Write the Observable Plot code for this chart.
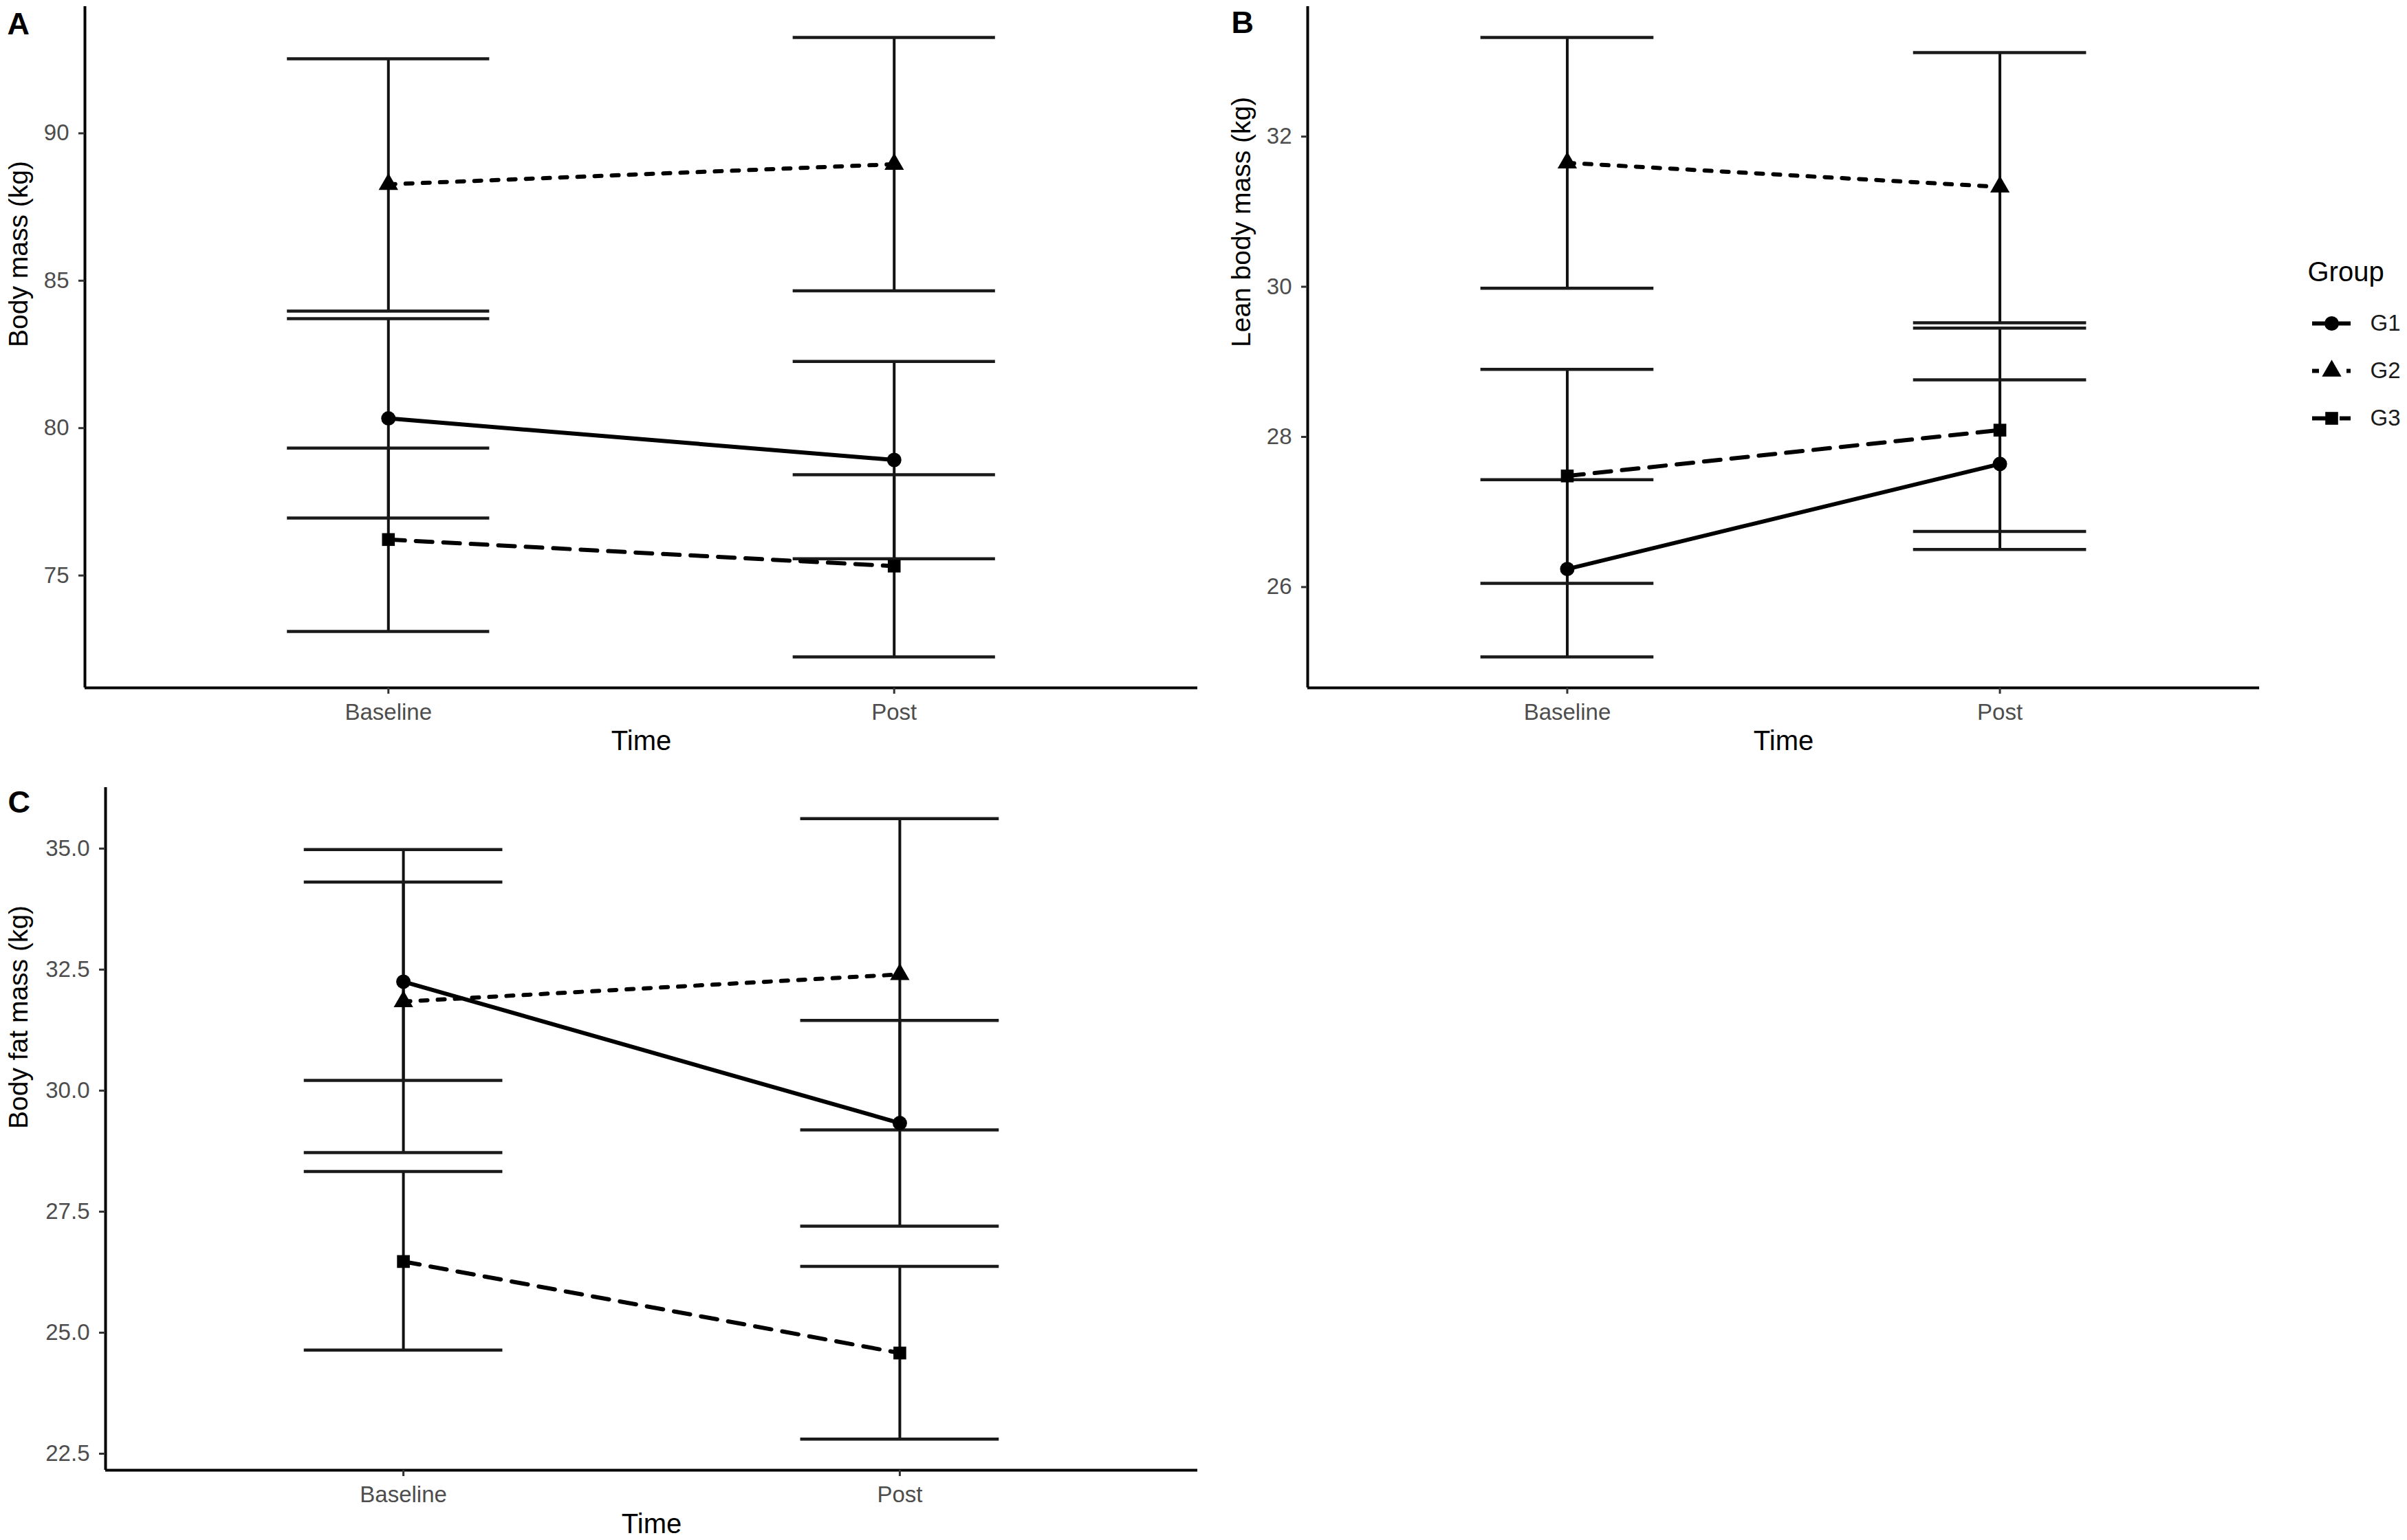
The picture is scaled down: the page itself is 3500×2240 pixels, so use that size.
<!DOCTYPE html>
<html>
<head>
<meta charset="utf-8">
<script src="https://cdn.jsdelivr.net/npm/d3@7"></script>
<script src="https://cdn.jsdelivr.net/npm/@observablehq/plot@0.6"></script>
<style>
  html, body { margin: 0; padding: 0; background: #fff; }
  #root { position: relative; width: 3500px; height: 2240px; background: #fff; overflow: hidden; }
  #root > svg, #root > figure { position: absolute; margin: 0; }
</style>
</head>
<body>
<div id="root"></div>
<script>
// ---------- data ----------
const times = ["Baseline", "Post"];
const timeIndex = [1, 2];
const groups = ["G1", "G2", "G3"];

// Panel A: Body mass (kg); rows = G1, G2, G3; columns = Baseline, Post
const massMean  = [[80.33, 78.92], [88.27, 88.95], [76.22, 75.32]];
const massLower = [[76.95, 75.57], [83.97, 84.66], [73.10, 72.24]];
const massUpper = [[83.71, 82.26], [92.53, 93.25], [79.32, 78.42]];
const massTicks = [75, 80, 85, 90];

// Panel B: Lean body mass (kg)
const leanMean  = [[26.24, 27.64], [31.65, 31.33], [27.48, 28.09]];
const leanLower = [[25.07, 26.50], [29.98, 29.52], [26.05, 26.74]];
const leanUpper = [[27.43, 28.76], [33.32, 33.12], [28.90, 29.45]];
const leanTicks = [26, 28, 30, 32];

// Panel C: Body fat mass (kg)
const fatMean  = [[32.25, 29.33], [31.84, 32.40], [26.47, 24.58]];
const fatLower = [[30.21, 27.20], [28.72, 29.19], [24.64, 22.80]];
const fatUpper = [[34.31, 31.45], [34.98, 35.62], [28.33, 26.37]];
const fatTicks = [22.5, 25, 27.5, 30, 32.5, 35];

// ---------- styles ----------
const FONT = '"Liberation Sans", Arial, Helvetica, sans-serif';
const dashes = [undefined, "10,15", "24,16"];
const symbols = ["circle", "triangle", "square"];
const root = document.getElementById("root");

function panel(cfg) {
  const rows = [];
  groups.forEach((g, gi) => timeIndex.forEach((x, ti) => rows.push({
    group: g, gi, x, time: times[ti],
    mean: cfg.mean[gi][ti], lo: cfg.lower[gi][ti], hi: cfg.upper[gi][ti]
  })));
  const lo = d3.min(rows, d => d.lo), hi = d3.max(rows, d => d.hi), pad = (hi - lo) * 0.05;
  const yDomain = [lo - pad, hi + pad];
  const xDomain = [0.4, 2.6];
  const capHalf = 0.2;
  const marks = [
    Plot.ruleX(rows, {x: "x", y1: "lo", y2: "hi", stroke: "#111", strokeWidth: 4}),
    Plot.ruleY(rows, {y: "lo", x1: d => d.x - capHalf, x2: d => d.x + capHalf, stroke: "#1a1a1a", strokeWidth: 4.5}),
    Plot.ruleY(rows, {y: "hi", x1: d => d.x - capHalf, x2: d => d.x + capHalf, stroke: "#1a1a1a", strokeWidth: 4.5})
  ];
  groups.forEach((g, gi) => {
    const sub = rows.filter(d => d.gi === gi);
    marks.push(Plot.line(sub, {x: "x", y: "mean", stroke: "black", strokeWidth: 6, strokeDasharray: dashes[gi]}));
    marks.push(Plot.dot(sub, {x: "x", y: "mean", symbol: symbols[gi], r: 10.5, fill: "black", stroke: "none"}));
  });
  marks.push(
    Plot.ruleY([yDomain[0]], {stroke: "black", strokeWidth: 4}),
    Plot.ruleX([xDomain[0]], {stroke: "black", strokeWidth: 4}),
    Plot.axisX({ticks: timeIndex, tickFormat: i => times[i - 1], tickSize: 9, tickPadding: 14,
      fontSize: 33, fill: "#4d4d4d", stroke: "#333", strokeWidth: 3, label: null}),
    Plot.axisY({ticks: cfg.ticks, tickFormat: cfg.fmt, tickSize: 9, tickPadding: 14,
      fontSize: 33, fill: "#4d4d4d", stroke: "#333", strokeWidth: 3, label: null}),
    Plot.text([cfg.ylabel], {frameAnchor: "left", rotate: -90, dx: cfg.ylabDx, lineAnchor: "top",
      fontSize: 39, fill: "black"}),
    Plot.text(["Time"], {frameAnchor: "bottom", dy: cfg.xlabDy, lineAnchor: "top", fontSize: 40, fill: "black"}),
    Plot.text([cfg.tag], {frameAnchor: "top-left", dx: cfg.tagDx, dy: cfg.tagDy, lineAnchor: "top",
      textAnchor: "start", fontSize: 45, fontWeight: "bold", fill: "black"})
  );
  const svg = Plot.plot({
    width: cfg.width, height: cfg.height,
    marginLeft: cfg.ml, marginRight: cfg.mr, marginTop: cfg.mt, marginBottom: cfg.mb,
    x: {domain: xDomain},
    y: {domain: yDomain},
    style: {fontFamily: FONT, background: "transparent", overflow: "visible", color: "black"},
    marks
  });
  svg.style.left = cfg.left + "px";
  svg.style.top = cfg.top + "px";
  root.appendChild(svg);
}

panel({mean: massMean, lower: massLower, upper: massUpper, ticks: massTicks, fmt: d3.format("d"),
  ylabel: "Body mass (kg)", tag: "A",
  left: 0, top: 0, width: 1760, height: 1120, ml: 123, mr: 19, mt: 9, mb: 120,
  ylabDx: -111, xlabDy: 62, tagDx: -113, tagDy: 9});

panel({mean: leanMean, lower: leanLower, upper: leanUpper, ticks: leanTicks, fmt: d3.format("d"),
  ylabel: "Lean body mass (kg)", tag: "B",
  left: 1760, top: 0, width: 1740, height: 1120, ml: 141, mr: 215, mt: 9, mb: 120,
  ylabDx: -111, xlabDy: 62, tagDx: -111, tagDy: 7});

panel({mean: fatMean, lower: fatLower, upper: fatUpper, ticks: fatTicks, fmt: d3.format(".1f"),
  ylabel: "Body fat mass (kg)", tag: "C",
  left: 0, top: 1120, width: 1760, height: 1120, ml: 153, mr: 19, mt: 25, mb: 102,
  ylabDx: -141, xlabDy: 63, tagDx: -142, tagDy: 5});

// ---------- legend ----------
const legendMarks = [];
groups.forEach((g, gi) => {
  legendMarks.push(Plot.ruleY([g], {stroke: "black", strokeWidth: 6, strokeDasharray: dashes[gi]}));
  legendMarks.push(Plot.dot([g], {y: d => d, symbol: symbols[gi], r: 10.5, fill: "black", stroke: "none"}));
});
legendMarks.push(
  Plot.text(groups, {y: d => d, frameAnchor: "right", dx: 28, textAnchor: "start", fontSize: 33, fill: "#1a1a1a"}),
  Plot.text(["Group"], {frameAnchor: "top-left", dx: -7, dy: -90, lineAnchor: "top", textAnchor: "start",
    fontSize: 40, fill: "black"})
);
const legend = Plot.plot({
  width: 150, height: 280, marginLeft: 12, marginRight: 82, marginTop: 110, marginBottom: 32,
  x: {domain: [0, 1], axis: null},
  y: {type: "point", domain: groups, padding: 0, axis: null},
  style: {fontFamily: FONT, background: "transparent", overflow: "visible"},
  marks: legendMarks
});
legend.style.left = "3350px";
legend.style.top = "360px";
root.appendChild(legend);
</script>
</body>
</html>
